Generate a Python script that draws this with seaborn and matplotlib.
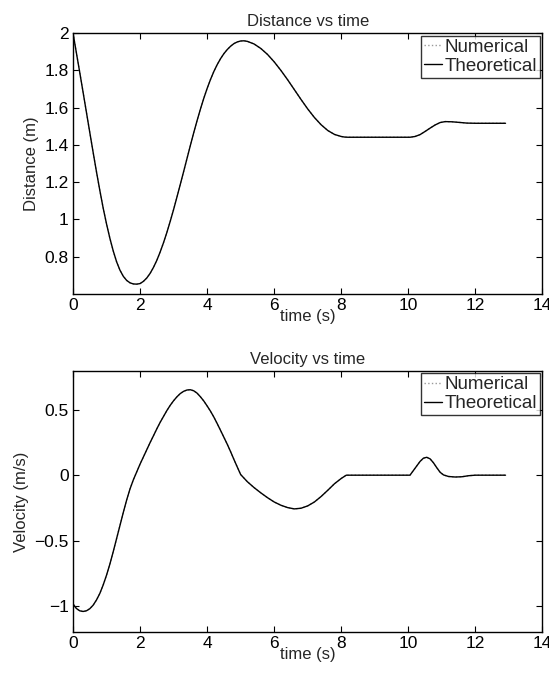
import numpy as np
import matplotlib
matplotlib.use('Agg')
import matplotlib.pyplot as plt
import seaborn as sns

# distance vs time
t_dist = [0, 0.1, 0.2, 0.3, 0.4, 0.5, 0.6, 0.7, 0.8, 0.9, 1.0, 1.1, 1.2, 1.3,
          1.4, 1.5, 1.6, 1.7, 1.8, 1.9, 2.0, 2.1, 2.2, 2.3, 2.4, 2.5, 2.6, 2.7,
          2.8, 2.9, 3.0, 3.1, 3.2, 3.3, 3.4, 3.5, 3.6, 3.7, 3.8, 3.9, 4.0, 4.1,
          4.2, 4.3, 4.4, 4.5, 4.6, 4.7, 4.8, 4.9, 5.0, 5.1, 5.2, 5.4, 5.6, 5.8,
          6.0, 6.2, 6.4, 6.6, 6.8, 7.0, 7.2, 7.4, 7.6, 7.8, 8.0, 8.1, 8.2,
          10.05, 10.2, 10.35, 10.5, 10.65, 10.8, 10.95, 11.1, 11.3, 11.5,
          11.75, 12.0, 12.9]
dist = [2.0, 1.895, 1.79, 1.683, 1.575, 1.467, 1.36, 1.255, 1.155, 1.06,
        0.975, 0.898, 0.83, 0.772, 0.727, 0.694, 0.672, 0.659, 0.653, 0.652,
        0.655, 0.667, 0.685, 0.71, 0.742, 0.78, 0.825, 0.875, 0.93, 0.99,
        1.053, 1.12, 1.188, 1.257, 1.327, 1.397, 1.465, 1.53, 1.592, 1.65,
        1.703, 1.751, 1.794, 1.831, 1.863, 1.89, 1.912, 1.93, 1.944, 1.953,
        1.958, 1.959, 1.956, 1.942, 1.918, 1.886, 1.846, 1.80, 1.75, 1.697,
        1.644, 1.593, 1.547, 1.508, 1.477, 1.456, 1.445, 1.442, 1.441,
        1.441, 1.445, 1.455, 1.472, 1.49, 1.507, 1.52, 1.525, 1.524, 1.521,
        1.517, 1.516, 1.516]

# velocity vs time
t_vel = [0, 0.1, 0.2, 0.3, 0.4, 0.5, 0.6, 0.7, 0.8, 0.9, 1.0, 1.1, 1.2, 1.3,
         1.4, 1.5, 1.6, 1.7, 1.8, 1.9, 2.0, 2.1, 2.2, 2.3, 2.4, 2.5, 2.6, 2.7,
         2.8, 2.9, 3.0, 3.1, 3.2, 3.3, 3.4, 3.5, 3.6, 3.7, 3.8, 3.9, 4.0, 4.1,
         4.2, 4.3, 4.4, 4.5, 4.6, 4.7, 4.8, 4.9, 5.0, 5.2, 5.4, 5.6, 5.8, 6.0,
         6.2, 6.4, 6.6, 6.8, 7.0, 7.2, 7.4, 7.6, 7.8, 8.0, 8.15,
         10.05, 10.15, 10.25, 10.35, 10.45, 10.55, 10.65, 10.75, 10.85, 10.95,
         11.05, 11.2, 11.4, 11.6, 11.8, 12.0, 12.9]
vel = [-0.985, -1.02, -1.038, -1.043, -1.038, -1.022, -0.995, -0.955, -0.905,
       -0.84, -0.765, -0.68, -0.585, -0.485, -0.385, -0.285, -0.19, -0.105,
       -0.035, 0.025, 0.085, 0.14, 0.195, 0.25, 0.302, 0.355, 0.405, 0.45,
       0.495, 0.535, 0.57, 0.60, 0.625, 0.642, 0.652, 0.654, 0.646, 0.628,
       0.60, 0.568, 0.53, 0.49, 0.445, 0.395, 0.343, 0.29, 0.237, 0.18, 0.12,
       0.062, 0.005, -0.05, -0.095, -0.135, -0.172, -0.205, -0.23, -0.248,
       -0.258, -0.253, -0.235, -0.205, -0.163, -0.115, -0.065, -0.025, 0.0,
       0.0, 0.035, 0.07, 0.105, 0.13, 0.137, 0.125, 0.095, 0.057, 0.022,
       0.002, -0.01, -0.014, -0.012, -0.004, 0.0, 0.0]

sns.set_style('ticks')
plt.rcParams['font.family'] = ['Liberation Sans', 'DejaVu Sans']
plt.rcParams['xtick.direction'] = 'in'
plt.rcParams['ytick.direction'] = 'in'
plt.rcParams['xtick.top'] = True
plt.rcParams['ytick.right'] = True
plt.rcParams['axes.linewidth'] = 1.0

fig = plt.figure(figsize=(5.49, 6.77), dpi=100)
ax1 = fig.add_axes([0.133, 0.566, 0.855, 0.385])
ax2 = fig.add_axes([0.133, 0.0665, 0.855, 0.386])


def draw(ax, t, y, title, ylabel, ylim, yticks, yticklabels):
    sns.lineplot(x=t, y=y, ax=ax, color='0.6', linestyle=':', lw=1,
                 label='Numerical')
    sns.lineplot(x=t, y=y, ax=ax, color='black', lw=1, label='Theoretical')
    ax.set_xlim(0, 14)
    ax.set_ylim(*ylim)
    ax.set_xticks(range(0, 15, 2))
    ax.set_yticks(yticks)
    ax.set_yticklabels(yticklabels)
    ax.tick_params(labelsize=12.5, length=4, width=0.8, colors='black', pad=3)
    ax.set_title(title, fontsize=12, pad=5)
    ax.set_xlabel('time (s)', fontsize=12, labelpad=-3)
    ax.set_ylabel(ylabel, fontsize=12, labelpad=4)
    for s in ax.spines.values():
        s.set_visible(True)
        s.set_color('black')
    leg = ax.legend(loc='upper right', fontsize=13.5, frameon=True,
                    fancybox=False, handlelength=1.0, handletextpad=0.1,
                    borderpad=0.15, labelspacing=0.1, borderaxespad=0.15)
    leg.get_frame().set_edgecolor('black')
    leg.get_frame().set_linewidth(1.0)


draw(ax1, t_dist, dist, 'Distance vs time', 'Distance (m)', (0.6, 2.0),
     [0.8, 1.0, 1.2, 1.4, 1.6, 1.8, 2.0],
     ['0.8', '1', '1.2', '1.4', '1.6', '1.8', '2'])
draw(ax2, t_vel, vel, 'Velocity vs time', 'Velocity (m/s)', (-1.2, 0.8),
     [-1, -0.5, 0, 0.5], ['\u22121', '\u22120.5', '0', '0.5'])

fig.savefig('out.png', dpi=100)
